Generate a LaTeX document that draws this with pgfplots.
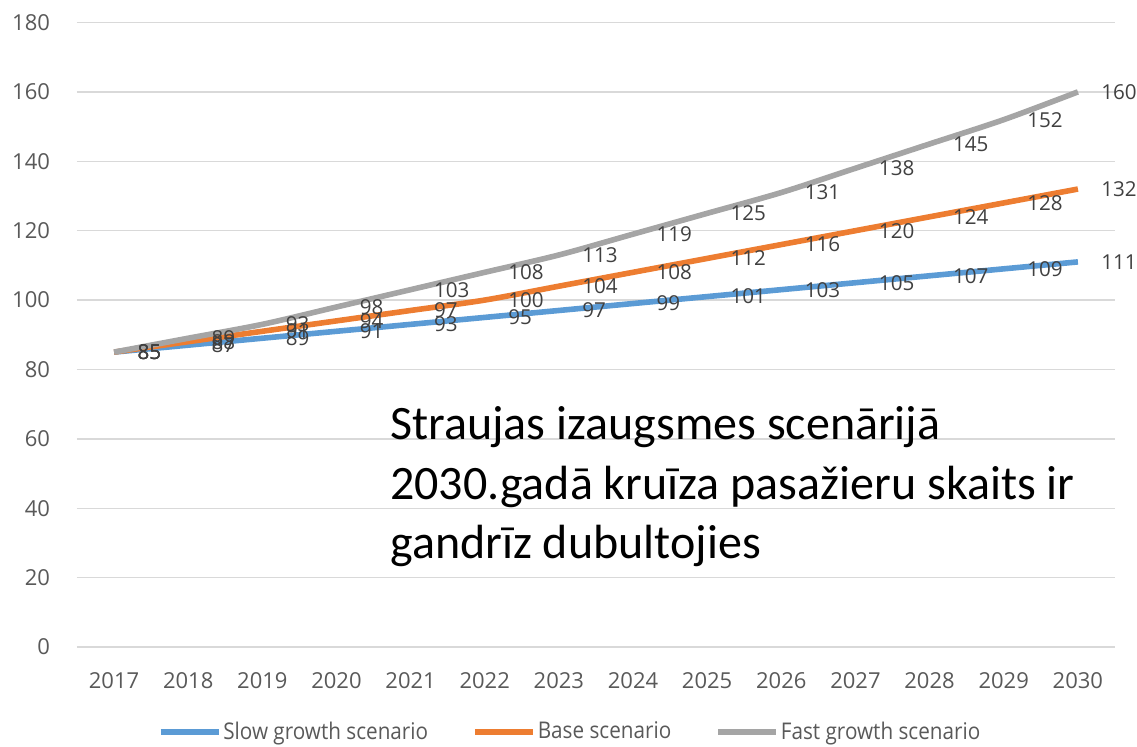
\documentclass[border=0pt]{standalone}
\usepackage{pgfplots}
\pgfplotsset{compat=1.18}
\usepackage{fontspec}
\setmainfont{Open Sans}
\newfontfamily\annfont{Carlito}
\newfontfamily\legendfont[FakeStretch=0.9]{Open Sans}
\definecolor{cslow}{HTML}{5B9BD5}
\definecolor{cbase}{HTML}{ED7D31}
\definecolor{cfast}{HTML}{A5A5A5}
\definecolor{gridc}{HTML}{D9D9D9}
\definecolor{tickc}{HTML}{595959}
\definecolor{labc}{HTML}{404040}
\begin{document}
\begin{tikzpicture}
\begin{axis}[
  scale only axis, width=519pt, height=312.25pt,
  xmin=2016.5, xmax=2030.5, ymin=0, ymax=180,
  xtick={2017,...,2030}, ytick={0,20,...,180},
  /pgf/number format/assume math mode=true,
  x tick label style={/pgf/number format/1000 sep={}, yshift=-9pt},
  y tick label style={xshift=-10pt},
  tick label style={font=\fontsize{11}{13}\selectfont, text=tickc},
  axis line style={draw=none}, major tick length=0pt,
  ymajorgrids, grid style={color=gridc, line width=0.7pt},
  clip=false,
  nodes near coords,
  every node near coord/.append style={anchor=west, xshift=7pt, font=\fontsize{10.3}{12}\selectfont, text=labc},
  legend style={at={(0.475,-0.136)}, anchor=center, draw=none, fill=none,
    legend columns=-1, font=\legendfont\fontsize{11.5}{13}\selectfont, text=tickc,
    nodes={inner sep=1pt},
    /tikz/every odd column/.append style={column sep=0pt},
    /tikz/every even column/.append style={column sep=21pt}},
  legend image code/.code={\draw[#1,line width=2.8pt] (0pt,0pt) -- (29pt,0pt);},
]
\addplot[cslow, line width=2.8pt, smooth] coordinates {
 (2017,85) (2018,87) (2019,89) (2020,91) (2021,93) (2022,95) (2023,97)
 (2024,99) (2025,101) (2026,103) (2027,105) (2028,107) (2029,109) (2030,111)};
\addlegendentry{Slow growth scenario}
\addplot[cbase, line width=2.8pt, smooth] coordinates {
 (2017,85) (2018,88) (2019,91) (2020,94) (2021,97) (2022,100) (2023,104)
 (2024,108) (2025,112) (2026,116) (2027,120) (2028,124) (2029,128) (2030,132)};
\addlegendentry{Base scenario}
\addplot[cfast, line width=2.8pt, smooth] coordinates {
 (2017,85) (2018,89) (2019,93) (2020,98) (2021,103) (2022,108) (2023,113)
 (2024,119) (2025,125) (2026,131) (2027,138) (2028,145) (2029,152) (2030,160)};
\addlegendentry{Fast growth scenario}
\node[anchor=base west, inner sep=0pt, font=\annfont\fontsize{24}{28}\selectfont] at (axis cs:2020.72,59.9) {Straujas izaugsmes scenārijā};
\node[anchor=base west, inner sep=0pt, font=\annfont\fontsize{24}{28}\selectfont] at (axis cs:2020.72,42.65) {2030.gadā kruīza pasažieru skaits ir};
\node[anchor=base west, inner sep=0pt, font=\annfont\fontsize{24}{28}\selectfont] at (axis cs:2020.72,25.6) {gandrīz dubultojies};
\end{axis}
\pgfresetboundingbox
\useasboundingbox (-38.5pt,-49.5pt) rectangle (530pt,323.5pt);
\end{tikzpicture}
\end{document}
